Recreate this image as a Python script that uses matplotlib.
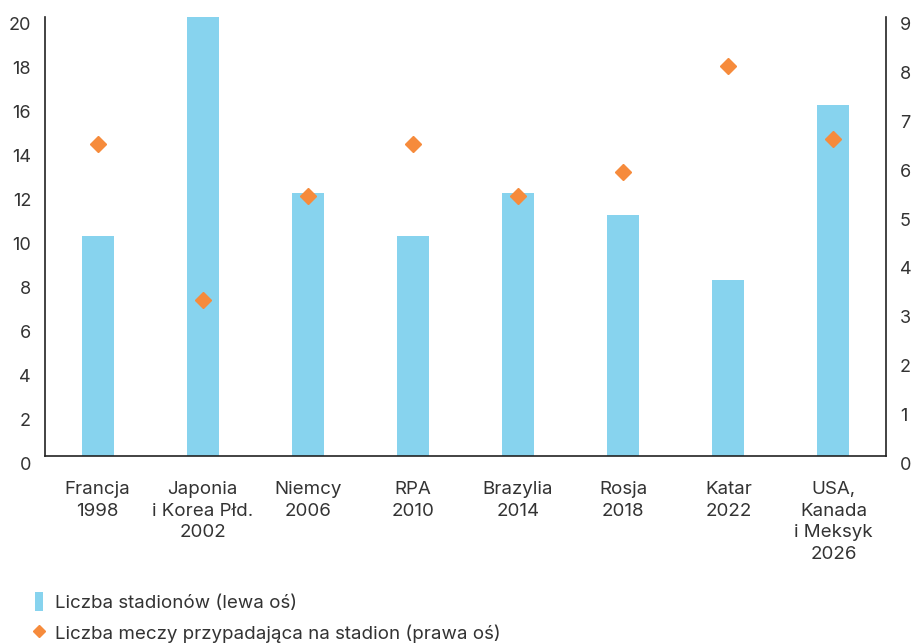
import matplotlib.pyplot as plt
import matplotlib.transforms as mtransforms
from matplotlib.patches import Patch
from matplotlib.lines import Line2D

plt.rcParams['font.family'] = ['Inter', 'DejaVu Sans']

kraje = ['Francja\n1998', 'Japonia\ni Korea Płd.\n2002', 'Niemcy\n2006', 'RPA\n2010',
         'Brazylia\n2014', 'Rosja\n2018', 'Katar\n2022', 'USA,\nKanada\ni Meksyk\n2026']
stadiony = [10, 20, 12, 10, 12, 11, 8, 16]
mecze_na_stadion = [6.4, 3.2, 5.33, 6.4, 5.33, 5.82, 8.0, 6.5]

kolor_slupki = '#87d3ee'
kolor_romby = '#f68b3c'
kolor_tekst = '#333333'

fig = plt.figure(figsize=(9.13, 6.44), dpi=100)
ax = fig.add_axes([45/913, (644-456)/644, (886-45)/913, (456-17)/644])
ax2 = ax.twinx()

x = list(range(len(kraje)))
ax.bar(x, stadiony, width=0.305, color=kolor_slupki, zorder=2)
ax2.plot(x, mecze_na_stadion, linestyle='none', marker='D', markersize=8,
         color=kolor_romby, zorder=3)

ax.set_xlim(-0.5, len(kraje) - 0.5)
ax.set_ylim(0, 20)
ax2.set_ylim(0, 9)
ax.set_yticks(range(0, 21, 2))
ax2.set_yticks(range(0, 10))
ax.set_xticks(x)
ax.set_xticklabels(kraje, fontsize=13.5, color=kolor_tekst, linespacing=1.36)

for a in (ax, ax2):
    for s in a.spines.values():
        s.set_color('#222222')
        s.set_linewidth(1.2)
    a.spines['top'].set_visible(False)
ax.spines['right'].set_visible(False)
ax2.spines['left'].set_visible(False)
ax2.spines['bottom'].set_visible(False)

ax.tick_params(axis='y', length=0, pad=10, labelsize=13, labelcolor=kolor_tekst)
ax.tick_params(axis='x', length=0, pad=18, labelcolor=kolor_tekst)
ax2.tick_params(axis='y', length=0, pad=10, labelsize=13, labelcolor=kolor_tekst)

# etykiety osi y lekko przesuniete w dol, jak w oryginale
przesun = mtransforms.ScaledTranslation(0, -7/100, fig.dpi_scale_trans)
for lab in ax.get_yticklabels() + ax2.get_yticklabels():
    lab.set_transform(lab.get_transform() + przesun)

uchwyty = [Patch(facecolor=kolor_slupki, edgecolor='none'),
           Line2D([], [], linestyle='none', marker='D', markersize=6, color=kolor_romby)]
opisy = ['Liczba stadionów (lewa oś)', 'Liczba meczy przypadająca na stadion (prawa oś)']
fig.legend(uchwyty, opisy, loc='lower left', bbox_to_anchor=(18/913, -0.025),
           frameon=False, fontsize=13.5, labelcolor=kolor_tekst,
           handlelength=0.45, handleheight=1.2, handletextpad=0.6, labelspacing=0.6)

plt.savefig('out.png', dpi=100)
